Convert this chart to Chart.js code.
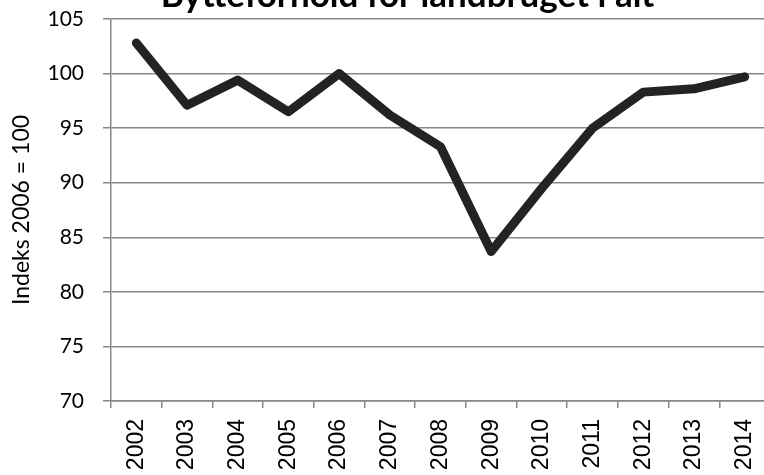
<!DOCTYPE html>
<html>
<head>
<meta charset="utf-8">
<script src="https://cdn.jsdelivr.net/npm/chart.js@4/dist/chart.umd.min.js"></script>
<style>
  html, body { margin: 0; padding: 0; background: #fff; overflow: hidden; width: 764px; height: 475px; }
  #wrap { position: absolute; left: 0; top: -30px; width: 815px; height: 505px; }
</style>
</head>
<body>
<div id="wrap"><canvas id="myChart"></canvas></div>
<script>
var years = ['2002', '2003', '2004', '2005', '2006', '2007', '2008', '2009', '2010', '2011', '2012', '2013', '2014'];
var indexValues = [102.8, 97.1, 99.4, 96.5, 100.0, 96.2, 93.3, 83.7, 89.5, 95.0, 98.3, 98.6, 99.7];
var yTicks = [70, 75, 80, 85, 90, 95, 100, 105];

var gridGray = '#878787';
var ctx = document.getElementById('myChart').getContext('2d');

// centre the title over the whole chart, not only the padded part
var titleFullWidth = {
    id: 'titleFullWidth',
    afterLayout: function(chart) {
        if (chart.titleBlock) {
            chart.titleBlock.left = 0;
            chart.titleBlock.right = chart.width;
            chart.titleBlock.width = chart.width;
        }
    }
};

var myChart = new Chart(ctx, {
    type: 'line',
    data: {
        labels: years,
        datasets: [{
            label: 'Bytteforhold',
            data: indexValues,
            borderColor: '#232323',
            borderWidth: 9,
            borderJoinStyle: 'round',
            borderCapStyle: 'round',
            pointRadius: 0,
            tension: 0,
            fill: false
        }]
    },
    options: {
        responsive: true,
        maintainAspectRatio: false,
        animation: false,
        devicePixelRatio: 1,
        layout: { padding: { left: 0, right: 45, top: 0, bottom: 0 } },
        plugins: {
            legend: { display: false },
            tooltip: { enabled: false },
            title: {
                display: true,
                text: 'Bytteforhold for landbruget i alt',
                color: '#000',
                font: { family: 'Lato', size: 35, weight: 'bold', lineHeight: 1.2 },
                padding: { top: 5, bottom: 2 }
            }
        },
        scales: {
            x: {
                offset: true,
                border: { display: true, color: gridGray, width: 1.5 },
                grid: { display: true, drawOnChartArea: false, drawTicks: true, tickLength: 7, color: gridGray, lineWidth: 1.5, offset: true },
                ticks: {
                    minRotation: 90,
                    maxRotation: 90,
                    autoSkip: false,
                    padding: 11,
                    color: '#000',
                    font: { family: 'Liberation Sans', size: 23 }
                },
                afterFit: function(scale) { scale.height = 74; }
            },
            y: {
                min: 70,
                max: 105,
                afterBuildTicks: function(scale) {
                    scale.ticks = yTicks.map(function(v) { return { value: v }; });
                },
                border: { display: true, color: gridGray, width: 1.5 },
                grid: { color: gridGray, lineWidth: 1.5, drawTicks: true, tickLength: 8 },
                ticks: {
                    padding: 19,
                    color: '#000',
                    font: { family: 'Lato', size: 21 }
                },
                title: {
                    display: true,
                    text: 'Indeks 2006 = 100',
                    color: '#000',
                    font: { family: 'Lato', size: 23 },
                    padding: { top: 8, bottom: 0 }
                },
                afterFit: function(scale) { scale.width = 111; }
            }
        }
    },
    plugins: [titleFullWidth]
});
</script>
</body>
</html>
